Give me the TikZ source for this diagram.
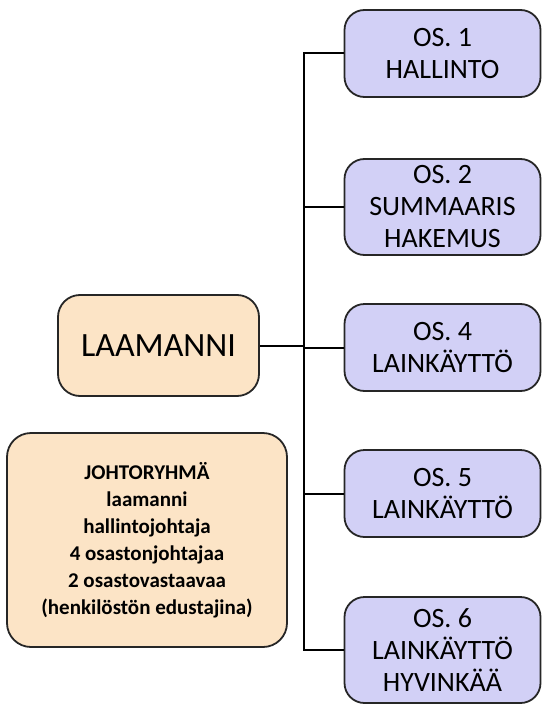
\documentclass[tikz,border=0pt]{standalone}
\usepackage{fontspec}
\setmainfont{Carlito}
\usepackage{xcolor}
\usepackage{tikz}
\usetikzlibrary{positioning}

\definecolor{peach}{HTML}{FCE4C6}
\definecolor{lilac}{HTML}{D2D0F6}

\tikzset{
  box/.style={draw=black!85, line width=1.8pt, align=center, inner sep=0pt},
  unit/.style={box, fill=lilac, rounded corners=20pt, minimum width=196pt, minimum height=87pt, font=\fontsize{28}{32}\selectfont},
  chief/.style={box, fill=peach, rounded corners=22pt, minimum width=201pt, minimum height=101pt, font=\fontsize{34}{40}\selectfont},
  group/.style={box, fill=peach, rounded corners=24pt, minimum width=280pt, minimum height=214pt, font=\fontsize{21}{27}\selectfont\bfseries},
  link/.style={draw=black, line width=2pt}
}

\begin{document}
\begin{tikzpicture}[x=1pt,y=1pt]
\useasboundingbox (0,0) rectangle (543,-706);

\node[chief] (laamanni) at (158.5,-345.5) {LAAMANNI};
\node[group] (johto) at (147,-540) {JOHTORYHMÄ\\laamanni\\hallintojohtaja\\4 osastonjohtajaa\\2 osastovastaavaa\\(henkilöstön edustajina)};

\node[unit] (os1) at (442.5,-53.5) {OS. 1\\HALLINTO};
\node[unit, minimum height=96pt] (os2) at (442.5,-207) {OS. 2\\SUMMAARIS\\HAKEMUS};
\node[unit] (os4) at (442.5,-347.5) {OS. 4\\LAINKÄYTTÖ};
\node[unit] (os5) at (442.5,-493.5) {OS. 5\\LAINKÄYTTÖ};
\node[unit, minimum height=106pt] (os6) at (442.5,-650) {OS. 6\\LAINKÄYTTÖ\\HYVINKÄÄ};

\coordinate (trunk) at (304,0);
\draw[link] (os1.west) -- (os1.west -| trunk) -- (os6.west -| trunk) -- (os6.west);
\draw[link] (os2.west) -- (os2.west -| trunk);
\draw[link] (os4.west) -- (os4.west -| trunk);
\draw[link] (os5.west) -- (os5.west -| trunk);
\draw[link] (laamanni.east) -- (laamanni.east -| trunk);
\end{tikzpicture}
\end{document}
